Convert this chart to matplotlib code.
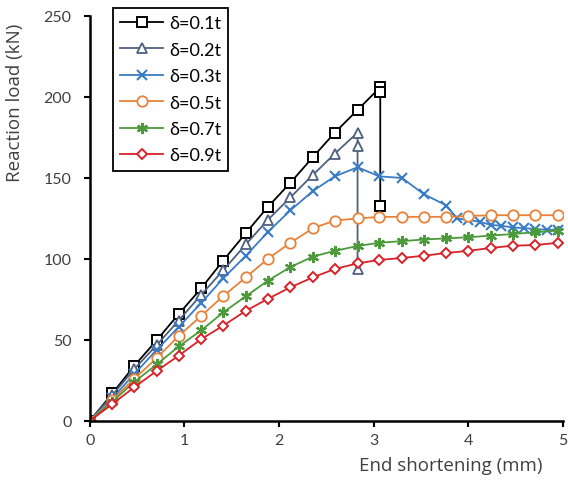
import matplotlib
matplotlib.use("Agg")
import matplotlib.pyplot as plt

plt.rcParams['font.family'] = ['Lato', 'DejaVu Sans']

# ---- data ----
x_01 = [0, 0.24, 0.47, 0.71, 0.94, 1.18, 1.41, 1.65, 1.88, 2.12, 2.36, 2.59, 2.83, 3.07, 3.07, 3.07]
y_01 = [0, 17, 34, 50, 66, 82, 99, 116, 132, 147, 163, 178, 192, 206, 203, 133]

x_02 = [0, 0.24, 0.47, 0.71, 0.94, 1.18, 1.41, 1.65, 1.88, 2.12, 2.36, 2.59, 2.83, 2.83, 2.83]
y_02 = [0, 16, 32, 47, 62, 78, 93, 109, 124, 138, 152, 165, 178, 170, 94]

x_03 = [0, 0.24, 0.47, 0.71, 0.94, 1.18, 1.41, 1.65, 1.88, 2.12, 2.36, 2.59, 2.83, 3.06, 3.30,
        3.53, 3.77, 3.88, 4.00, 4.12, 4.24, 4.35, 4.47, 4.59, 4.71, 4.83, 4.95]
y_03 = [0, 14, 29, 44, 58, 73, 88, 102, 116.5, 130, 142, 151, 156.6, 151, 150,
        140, 133, 125, 124, 123, 121, 120.5, 119.5, 119, 118.5, 118, 118]

x_common = [0, 0.24, 0.47, 0.71, 0.94, 1.18, 1.41, 1.65, 1.88, 2.12, 2.36, 2.59, 2.83, 3.06, 3.30,
            3.53, 3.77, 4.00, 4.24, 4.47, 4.71, 4.95]
y_05 = [0, 13, 26, 39, 52.5, 65, 77, 88.7, 100, 110, 119, 123.7, 125, 126, 126,
        126, 126, 126.5, 127, 127, 127, 127]
y_07 = [0, 12, 24, 35, 46, 56, 67, 77, 86.5, 95, 101.5, 105, 108, 110, 111,
        112, 112.7, 113.4, 114.4, 115.4, 116.5, 117.5]
y_09 = [0, 10.5, 20.8, 31, 40.3, 50.6, 58.8, 68, 75.3, 82.5, 88.7, 93.8, 97.3, 99.4, 100.6,
        102, 103.7, 105, 106.8, 108.2, 108.6, 110]

labels = ['δ=0.1t', 'δ=0.2t', 'δ=0.3t', 'δ=0.5t', 'δ=0.7t', 'δ=0.9t']
x_ticks = [0, 1, 2, 3, 4, 5]
y_ticks = [0, 50, 100, 150, 200, 250]

# ---- figure ----
fig = plt.figure(figsize=(5.68, 4.85), dpi=100)
ax = fig.add_axes([0.158, 0.130, 0.833, 0.835])

lw = 1.3
ax.plot(x_01, y_01, color='black', lw=lw, marker='s', ms=7.5, mfc='white', mec='black', mew=1.4, label=labels[0])
ax.plot(x_02, y_02, color='#4E6080', lw=lw, marker='^', ms=7.5, mfc='white', mec='#4E6080', mew=1.3, label=labels[1])
ax.plot(x_03, y_03, color='#3A7CC4', lw=lw, marker='x', ms=7, mec='#3A7CC4', mew=1.5, label=labels[2])
ax.plot(x_common, y_05, color='#E8823A', lw=lw, marker='o', ms=7.5, mfc='white', mec='#E8823A', mew=1.3, label=labels[3])
ax.plot(x_common, y_07, color='#4C9A3C', lw=lw, marker=(6, 2, 0), ms=8, mec='#4C9A3C', mew=1.6, label=labels[4])
ax.plot(x_common, y_09, color='#D8222A', lw=lw, marker='D', ms=5.5, mfc='white', mec='#D8222A', mew=1.4, label=labels[5])

ax.set_xlim(0, 5)
ax.set_ylim(0, 250)
ax.set_xticks(x_ticks)
ax.set_yticks(y_ticks)
ax.tick_params(axis='both', direction='out', length=4, width=1.5, labelsize=11.5, colors='black')
ax.tick_params(axis='both', labelcolor='#404040')
ax.tick_params(axis='y', pad=9)
ax.tick_params(axis='x', pad=5)
for s in ['top', 'right']:
    ax.spines[s].set_visible(False)
for s in ['left', 'bottom']:
    ax.spines[s].set_linewidth(1.8)

ax.set_xlabel('End shortening (mm)', fontsize=13.5, color='#404040', family=['Open Sans', 'DejaVu Sans'])
ax.xaxis.set_label_coords(0.762, -0.086)
ax.set_ylabel('Reaction load (kN)', fontsize=13.5, color='#404040', family=['Open Sans', 'DejaVu Sans'])
ax.yaxis.set_label_coords(-0.138, 0.788)

leg = ax.legend(loc='upper left', bbox_to_anchor=(0.049, 1.02), fontsize=13,
                frameon=True, fancybox=False, edgecolor='black', framealpha=1,
                handlelength=2.4, labelspacing=0.58, borderpad=0.4, handletextpad=0.3,
                borderaxespad=0)
leg.get_frame().set_linewidth(1.3)

fig.savefig('out.png', dpi=100)
